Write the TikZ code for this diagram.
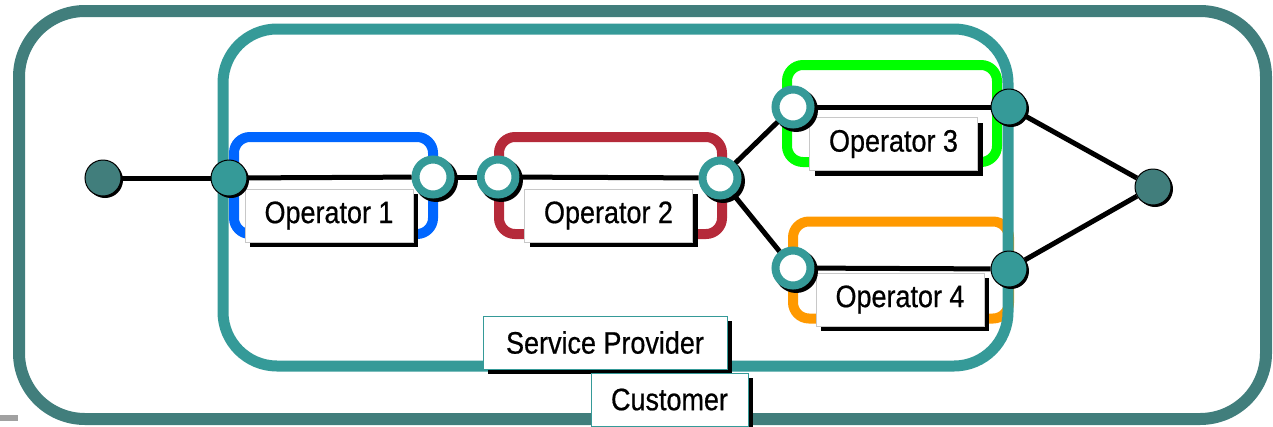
\documentclass[tikz,border=0pt]{standalone}
\usepackage{fontspec}
\newfontfamily\narrowsans{Liberation Sans}[FakeStretch=0.87, FakeBold=0.6]
\usetikzlibrary{shadows}
\definecolor{custteal}{HTML}{417E7C}
\definecolor{provteal}{HTML}{359A98}
\definecolor{opblue}{HTML}{0066FF}
\definecolor{opred}{HTML}{B52A3A}
\definecolor{opgreen}{HTML}{00FF00}
\definecolor{oporange}{HTML}{FF9900}
\definecolor{lblgrey}{HTML}{C8C8C8}
\newcommand{\lbl}{\narrowsans\fontsize{31}{35}\selectfont}
\tikzstyle{opframe} = [draw, rectangle, line width=10pt, rounded corners=16pt, inner sep=0pt, minimum height=97pt]
\tikzstyle{oplabel} = [draw=lblgrey, fill=white, rectangle, line width=0.8pt, inner sep=0pt, minimum width=168pt, minimum height=53pt, font=\lbl, drop shadow={shadow xshift=5pt, shadow yshift=-5pt, opacity=1, fill=black}]
\tikzstyle{domainlabel} = [oplabel, draw=provteal]
\tikzstyle{endpt} = [circle, draw=black, fill=custteal, line width=1pt, inner sep=0pt, minimum size=36pt, drop shadow={shadow xshift=2pt, shadow yshift=-2pt, opacity=1, fill=black}]
\tikzstyle{gate} = [endpt, fill=provteal]
\tikzstyle{port} = [circle, draw=provteal, fill=white, line width=8pt, inner sep=0pt, minimum size=35pt, drop shadow={shadow xshift=2.5pt, shadow yshift=-2.5pt, shadow scale=1.25, opacity=1, fill=black}]
\tikzstyle{link} = [draw=black, line width=5pt]

\begin{document}
\begin{tikzpicture}[x=1pt, y=-1pt]
\useasboundingbox (0,0) rectangle (1273,426);
% customer domain
\draw[custteal, line width=12pt, rounded corners=66pt] (19,11) rectangle (1266,419);
\fill[black!37] (0,415) rectangle (18,421);
% operator domains
\node[opframe, draw=opblue, minimum width=199pt] (op1) at (333.5,185.5) {};
\node[opframe, draw=opred, minimum width=223pt] (op2) at (610.5,185.5) {};
\node[opframe, draw=opgreen, minimum width=210pt] (op3) at (892,113.5) {};
\node[opframe, draw=oporange, minimum width=216pt] (op4) at (901,270) {};
% service provider domain
\draw[provteal, line width=11pt, rounded corners=54pt] (223,29) rectangle (1008,366);
% labels
\node[oplabel] (op1-label) at (329,215.5) {Operator 1};
\node[oplabel] (op2-label) at (608.5,215.5) {Operator 2};
\node[oplabel] (op3-label) at (893.5,144) {Operator 3};
\node[oplabel] (op4-label) at (900,299.5) {Operator 4};
\node[domainlabel, minimum width=244pt] (sp-label) at (605,342.5) {Service Provider};
\node[domainlabel, minimum width=157pt] (cust-label) at (669.5,399.5) {Customer};
% access points
\node[endpt] (src) at (103,178) {};
\node[gate] (sp-in) at (229,178) {};
\node[port] (op1-out) at (433,177) {};
\node[port] (op2-in) at (498,177) {};
\node[port] (op2-out) at (720,178) {};
\node[port] (op3-in) at (793,107) {};
\node[gate] (op3-out) at (1009,107) {};
\node[port] (op4-in) at (793,268) {};
\node[gate] (op4-out) at (1009,269) {};
\node[endpt] (dst) at (1153,187) {};
% connections
\foreach \a/\b in {src/sp-in, sp-in/op1-out, op1-out/op2-in, op2-in/op2-out,
    op2-out/op3-in, op2-out/op4-in, op3-in/op3-out, op4-in/op4-out,
    op3-out/dst, op4-out/dst}
    \draw[link] (\a) -- (\b);
\end{tikzpicture}
\end{document}
